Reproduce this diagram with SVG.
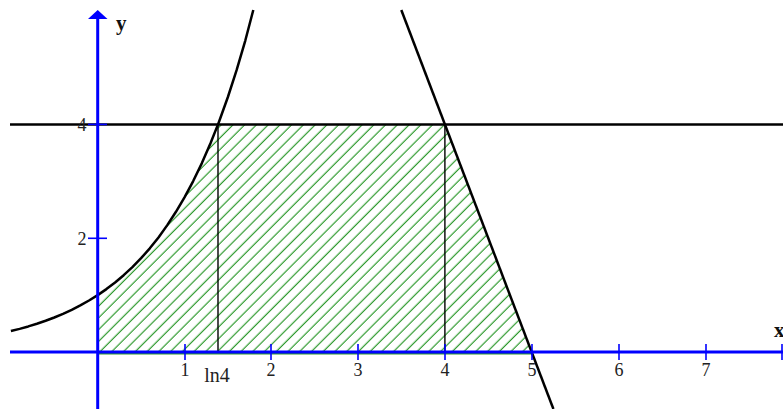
<svg xmlns="http://www.w3.org/2000/svg" width="783" height="409" viewBox="0 0 783 409">
<style>
.axis{stroke:#0000ff;stroke-width:3;fill:none}
.tick{stroke:#0000ff;stroke-width:1.6;fill:none}
.curve{stroke:#000;stroke-width:2.5;fill:none;stroke-linejoin:round}
.thin{stroke:#000;stroke-width:1.4;fill:none}
.lbl{font-family:"Liberation Serif","Times New Roman",serif;font-size:18px;fill:#222;text-anchor:middle}
.axl{font-family:"Liberation Serif","Times New Roman",serif;font-size:21px;font-weight:bold;fill:#111}
</style>
<defs>
<pattern id="hatch" patternUnits="userSpaceOnUse" width="8.3" height="8.3" patternTransform="rotate(-45)">
<line x1="0" y1="4" x2="8.3" y2="4" stroke="#2f9a2f" stroke-width="1.2"/>
</pattern>
</defs>
<rect width="783" height="409" fill="#fff"/>
<g id="region">
<polygon fill="url(#hatch)" stroke="none" points="97.7,352 97.7,295.1 106.4,289.11 115.1,282.5 123.7,275.19 132.4,267.12 141.1,258.19 149.8,248.32 158.5,237.41 167.1,225.37 175.8,212.05 184.5,197.33 193.2,181.06 201.9,163.09 210.5,143.22 218,124.4 444.9,124.4 531.7,352"/>
<line x1="98" y1="353.8" x2="531" y2="353.8" stroke="#2f9a2f" stroke-width="1.4"/>
</g>
<g id="connectors">
<line class="thin" x1="218" y1="124.4" x2="218" y2="352"/>
<line class="thin" x1="444.9" y1="124.4" x2="444.9" y2="352"/>
<line class="curve" x1="10" y1="124.4" x2="783" y2="124.4"/>
<polyline class="curve" points="10.9,331.07 19.6,328.87 28.3,326.43 36.9,323.74 45.6,320.77 54.3,317.49 63,313.86 71.7,309.85 80.3,305.42 89,300.52 97.7,295.1 106.4,289.11 115.1,282.5 123.7,275.19 132.4,267.12 141.1,258.19 149.8,248.32 158.5,237.41 167.1,225.37 175.8,212.05 184.5,197.33 193.2,181.06 201.9,163.09 210.5,143.22 218,124.4 219.2,121.26 227.9,96.99 236.6,70.18 245.3,40.53 253.3,10"/>
<line class="curve" x1="401.3" y1="10" x2="553.4" y2="409"/>
</g>
<g id="axes">
<line class="axis" x1="10" y1="352" x2="783" y2="352"/>
<line class="axis" x1="97.7" y1="409" x2="97.7" y2="17"/>
<polygon points="88,19 107.5,19 97.7,10" fill="#0000ff"/>
<g class="tick">
<line x1="185" y1="344" x2="185" y2="360"/>
<line x1="271" y1="344" x2="271" y2="360"/>
<line x1="358" y1="344" x2="358" y2="360"/>
<line x1="445" y1="344" x2="445" y2="360"/>
<line x1="532" y1="344" x2="532" y2="360"/>
<line x1="619" y1="344" x2="619" y2="360"/>
<line x1="706" y1="344" x2="706" y2="360"/>
<line x1="782" y1="344" x2="782" y2="360"/>
<line x1="88" y1="238.3" x2="107" y2="238.3"/>
<line x1="88" y1="124.4" x2="107" y2="124.4"/>
</g>
</g>
<g id="labels">
<text class="lbl" x="185" y="376">1</text>
<text class="lbl" x="271" y="376">2</text>
<text class="lbl" x="358" y="376">3</text>
<text class="lbl" x="445" y="376">4</text>
<text class="lbl" x="532" y="376">5</text>
<text class="lbl" x="619" y="376">6</text>
<text class="lbl" x="706" y="376">7</text>
<text class="lbl" x="217" y="382" style="font-size:20px">ln4</text>
<text class="lbl" x="82" y="245">2</text>
<text class="lbl" x="82" y="131">4</text>
<text class="axl" x="116" y="30">y</text>
<text class="axl" x="774" y="337">x</text>
</g>
</svg>
